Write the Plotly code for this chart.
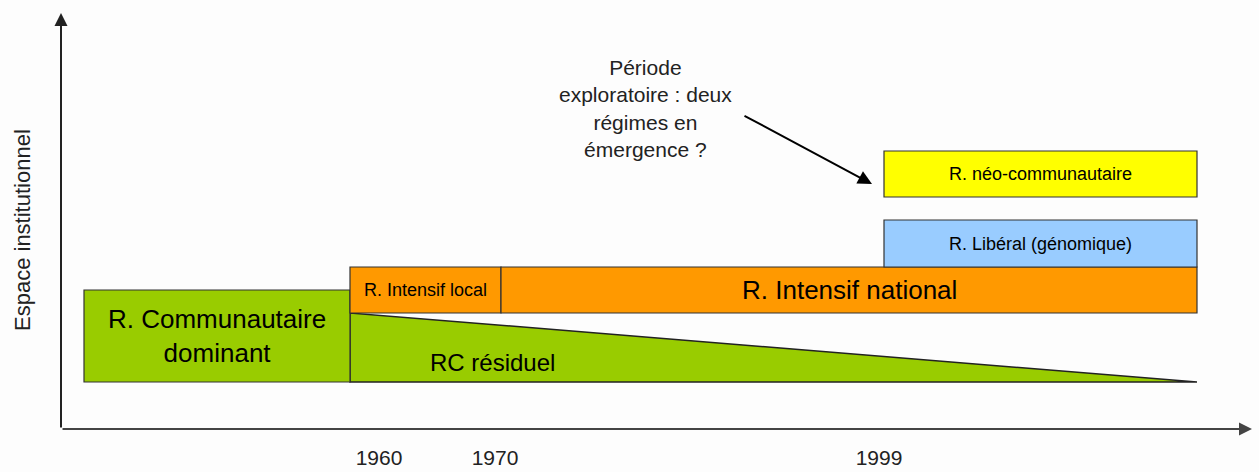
import plotly.graph_objects as go

# ---- data (schematic units: timeline position, institutional space level) ----
regime_labels = ["R. Communautaire<br>dominant", "R. Intensif local", "R. Intensif national",
                 "R. Libéral (génomique)", "R. néo-communautaire"]
regime_start = [23, 289, 440, 823, 823]
regime_end = [289, 440, 1136, 1136, 1136]
regime_low = [47, 116, 116, 162, 232]
regime_high = [139, 162, 162, 209, 278]
regime_colors = ["#99CC00", "#FF9900", "#FF9900", "#99CCFF", "#FFFF00"]
regime_font = [26, 18, 26, 18, 18]
regime_text_x = [156, 364, 788, 979, 979]

residual_label = "RC résiduel"
residual_x = [289, 1136]
residual_top = [116, 47]
residual_base = 47

year_labels = ["1960", "1970", "1999"]
year_pos = [318, 434, 818]

note_text = "Période<br>exploratoire : deux<br>régimes en<br>émergence ?"
note_pos = (584, 321)
note_arrow_tail = (682, 314)
note_arrow_head = (811, 245)

axis_x_end = 1191
axis_y_end = 416
y_title = "Espace institutionnel"

FONT = "Liberation Sans, Arial, sans-serif"

fig = go.Figure()

shapes = []
# residual triangle
shapes.append(dict(type="path",
                   path=f"M {residual_x[0]},{residual_base} L {residual_x[0]},{residual_top[0]} "
                        f"L {residual_x[1]},{residual_top[1]} Z",
                   fillcolor="#99CC00", line=dict(color="#222222", width=1.5), layer="above"))
for x0, x1, y0, y1, c in zip(regime_start, regime_end, regime_low, regime_high, regime_colors):
    shapes.append(dict(type="rect", x0=x0, x1=x1, y0=y0, y1=y1, fillcolor=c,
                       line=dict(color="#333333", width=1.2), layer="above"))

annotations = []
for lab, tx, y0, y1, fs in zip(regime_labels, regime_text_x, regime_low, regime_high, regime_font):
    annotations.append(dict(x=tx, y=(y0 + y1) / 2, text=lab, showarrow=False,
                            font=dict(size=fs, color="black", family=FONT)))
annotations.append(dict(x=431, y=67, text=residual_label, showarrow=False,
                        font=dict(size=24, color="black", family=FONT)))
annotations.append(dict(x=note_pos[0], y=note_pos[1], text=note_text, showarrow=False,
                        font=dict(size=21, color="#222222", family=FONT)))
annotations.append(dict(x=note_arrow_head[0], y=note_arrow_head[1], ax=note_arrow_tail[0],
                        ay=note_arrow_tail[1], axref="x", ayref="y", text="", showarrow=True,
                        arrowhead=2, arrowsize=1.4, arrowwidth=2, arrowcolor="black"))
# axes with arrows
annotations.append(dict(x=0, y=axis_y_end, ax=0, ay=0, axref="x", ayref="y", text="",
                        showarrow=True, arrowhead=2, arrowsize=1.3, arrowwidth=2,
                        arrowcolor="#222222"))
annotations.append(dict(x=axis_x_end, y=0, ax=0, ay=0, axref="x", ayref="y", text="",
                        showarrow=True, arrowhead=2, arrowsize=1.3, arrowwidth=2,
                        arrowcolor="#444444"))
annotations.append(dict(xref="paper", x=0, xanchor="center", xshift=-39, y=199, text=y_title,
                        textangle=-90, showarrow=False,
                        font=dict(size=22, color="#222222", family=FONT)))

fig.update_layout(
    width=1259, height=472,
    margin=dict(l=61, r=0, t=0, b=43, autoexpand=False),
    paper_bgcolor="#FDFDFD", plot_bgcolor="#FDFDFD",
    shapes=shapes, annotations=annotations, showlegend=False,
    xaxis=dict(range=[0, 1198], showgrid=False, zeroline=False, showline=False,
               automargin=False,
               tickvals=year_pos, ticktext=year_labels, ticks="outside", ticklen=10,
               tickcolor="rgba(0,0,0,0)", tickfont=dict(size=21, color="#222222", family=FONT)),
    yaxis=dict(range=[0, 429], showgrid=False, zeroline=False, showline=False,
               automargin=False, showticklabels=False),
)

fig.write_html("out.html", config={"displayModeBar": False},
               post_script="document.body.style.margin='0px';document.body.style.overflow='hidden';")
